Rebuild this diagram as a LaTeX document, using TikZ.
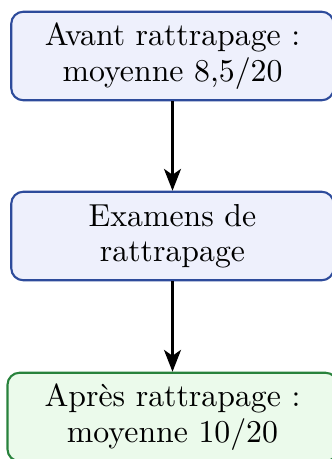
\documentclass[tikz,border=0pt]{standalone}
\usetikzlibrary{arrows.meta}
\definecolor{bxblue}{RGB}{45,75,155}
\definecolor{bxbluefill}{RGB}{238,240,252}
\definecolor{bxgreen}{RGB}{40,130,60}
\definecolor{bxgreenfill}{RGB}{235,250,235}
\tikzset{
  stepbox/.style={draw=bxblue, fill=bxbluefill, line width=0.7pt, rounded corners=4pt,
    align=center, minimum width=107.5pt, minimum height=29.5pt, inner sep=0pt,
    font=\fontsize{10.6}{11.8}\selectfont},
  finalbox/.style={stepbox, draw=bxgreen, fill=bxgreenfill, minimum width=110pt},
  flow/.style={-{Stealth[length=7.3pt,width=5.7pt,inset=2pt]}, line width=0.7pt}
}
\begin{document}
\begin{tikzpicture}[x=0.33333pt,y=-0.33333pt]
\useasboundingbox (0,0) rectangle (332,459);
\node[stepbox] (avant) at (172.5,56) {Avant rattrapage :\\moyenne 8,5/20};
\node[stepbox] (exam) at (172.5,236) {Examens de\\rattrapage};
\node[finalbox] (apres) at (172.5,417) {Après rattrapage :\\moyenne 10/20};
\draw[flow] (avant) -- (exam);
\draw[flow] (exam) -- (apres);
\end{tikzpicture}
\end{document}
